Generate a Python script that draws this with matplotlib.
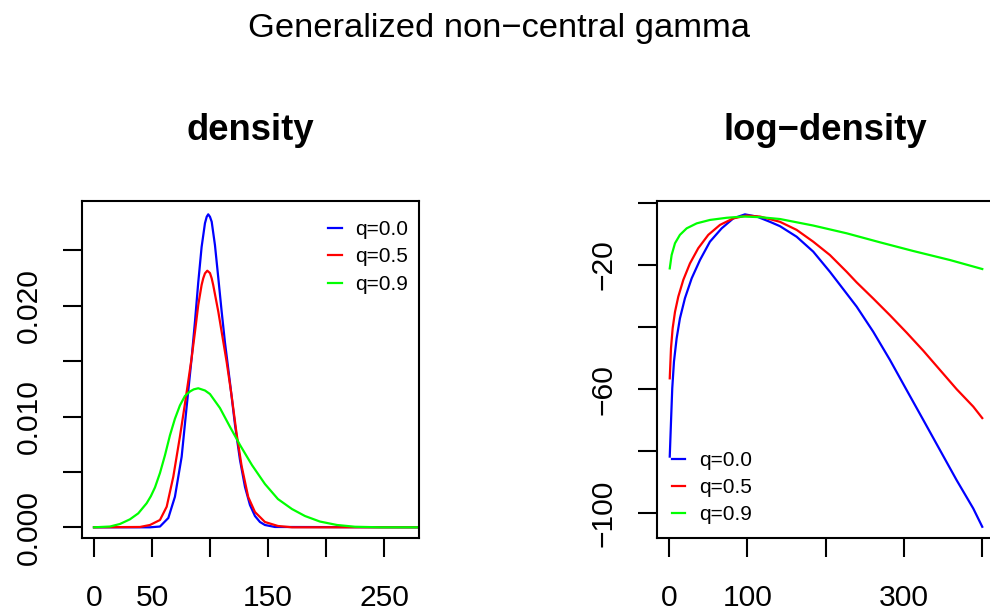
import matplotlib
matplotlib.use("Agg")
import matplotlib.pyplot as plt

plt.rcParams['font.family'] = ['Liberation Sans', 'DejaVu Sans']

MINUS = "\u2212"

# --- values ---
labels = ["q=0.0", "q=0.5", "q=0.9"]
colors = ["#0000FF", "#FF0000", "#00FF00"]

# density panel
dens_x_q00 = [0, 48.3, 56.9, 64.1, 69.8, 75.6, 79.9, 84.2, 87.1, 89.9, 92.8, 95.7,
              97.2, 98.5, 100.0, 101.5, 104.3, 107.2, 110.1, 112.9, 117.2, 121.6,
              125.9, 130.2, 134.5, 138.8, 143.1, 147.4, 156.0, 285]
dens_y_q00 = [0, 0, 0.00007, 0.00084, 0.00276, 0.00637, 0.01088, 0.01528, 0.0186,
              0.0221, 0.02530, 0.02745, 0.02803, 0.02825, 0.02803, 0.02758, 0.02548,
              0.0225, 0.01946, 0.01672, 0.01311, 0.00923, 0.00607, 0.00364, 0.00201,
              0.00102, 0.00048, 0.00021, 0.00003, 0]

dens_x_q05 = [0, 39.7, 48.3, 56.9, 62.7, 68.4, 74.1, 78.4, 81.3, 84.2, 87.1, 89.9,
              92.8, 94.2, 95.7, 97.7, 100.0, 101.5, 102.8, 107.2, 111.5, 114.4, 118.7,
              123.0, 127.3, 133.0, 138.8, 147.4, 158.6, 170.7, 285]
dens_y_q05 = [0, 0.00003, 0.00021, 0.00066, 0.00186, 0.00457, 0.00818, 0.01113,
              0.0132, 0.01528, 0.01765, 0.02006, 0.02187, 0.02247, 0.02292, 0.02316,
              0.02295, 0.02247, 0.02187, 0.01946, 0.01675, 0.01492, 0.01185, 0.00842,
              0.00553, 0.00273, 0.00138, 0.00048, 0.00012, 0, 0]

dens_x_q09 = [0, 13.8, 22.4, 31.0, 38.2, 45.4, 49.0, 52.6, 56.9, 61.2, 65.5, 69.8,
              74.1, 78.4, 82.8, 86.0, 89.9, 95.7, 100.0, 108.6, 117.2, 125.9, 136.2,
              147.4, 158.6, 170.7, 181.9, 194.8, 209.5, 225.0, 246.6, 285]
dens_y_q09 = [0, 0.00007, 0.0003, 0.00072, 0.00126, 0.00217, 0.0028, 0.0036, 0.0049,
              0.0065, 0.0083, 0.0098, 0.0110, 0.01185, 0.01226, 0.01245, 0.01255,
              0.01235, 0.01203, 0.01077, 0.00908, 0.00743, 0.00562, 0.00391, 0.00255,
              0.00165, 0.00102, 0.00052, 0.00021, 0.00005, 0, 0]

# log-density panel
logd_x_q00 = [1, 2.6, 4.2, 6.4, 9.8, 14.0, 20.4, 29.0, 39.6, 52.3, 67.3, 82.1, 97.0,
              112.0, 128.9, 141.7, 163.0, 184.2, 205.5, 218.3, 239.6, 260.8, 282.2,
              303.5, 324.7, 346.0, 367.3, 388.5, 400]
logd_y_q00 = [-81.7, -70.5, -59.7, -51.1, -43.6, -37.2, -30.7, -24.3, -18.4, -12.5,
              -8.2, -5.0, -3.7, -4.4, -6.1, -7.5, -10.9, -15.7, -22.2, -26.4, -33.4,
              -41.5, -50.6, -60.3, -69.9, -79.6, -89.3, -98.4, -104.3]

logd_x_q05 = [1, 2.6, 4.7, 7.7, 11.9, 18.3, 26.8, 37.4, 50.2, 65.1, 82.1, 99.2, 116.2,
              141.7, 163.0, 184.2, 205.5, 226.9, 239.6, 260.8, 282.2, 303.5, 324.7,
              346.0, 367.3, 388.5, 400]
logd_y_q05 = [-56.5, -46.8, -40.4, -35.1, -30.2, -24.8, -19.5, -14.6, -10.3, -7.1,
              -5.0, -4.1, -4.4, -6.1, -8.7, -12.5, -16.8, -22.2, -25.6, -30.8, -36.2,
              -41.8, -47.6, -53.8, -60.0, -65.6, -69.3]

logd_x_q09 = [1, 3.4, 7.7, 14.0, 22.6, 35.4, 52.3, 73.7, 94.9, 116.2, 141.7, 184.2,
              226.9, 269.4, 311.9, 358.7, 400]
logd_y_q09 = [-21.1, -16.8, -13.0, -10.3, -8.2, -6.6, -5.5, -4.8, -4.4, -4.6, -5.2,
              -7.3, -9.8, -12.7, -15.5, -18.4, -21.3]

dens_xticks = [0, 50, 100, 150, 200, 250]
dens_xticklabels = ["0", "50", "", "150", "", "250"]
dens_yticks = [0, 0.005, 0.010, 0.015, 0.020, 0.025]
dens_yticklabels = ["0.000", "", "0.010", "", "0.020", ""]

logd_xticks = [0, 100, 200, 300, 400]
logd_xticklabels = ["0", "100", "", "300", ""]
logd_yticks = [-100, -80, -60, -40, -20, 0]
logd_yticklabels = [MINUS + "100", "", MINUS + "60", "", MINUS + "20", ""]


def style_axes(ax, xticks, xlabels, yticks, ylabels):
    for sp in ax.spines.values():
        sp.set_linewidth(1.5)
    ax.set_xticks(xticks, xlabels)
    ax.set_yticks(yticks, ylabels, rotation=90, va="center")
    ax.tick_params(axis="both", direction="out", length=13.7, width=1.5,
                   labelsize=21.6)
    ax.tick_params(axis="x", pad=19.5)
    ax.tick_params(axis="y", pad=14.5)


fig = plt.figure(figsize=(9.9, 6.13), dpi=100)

# --- left: density ---
ax1 = fig.add_axes([0.0825, 0.1219, 0.3407, 0.5507])
for xs, ys, c, lab in zip([dens_x_q00, dens_x_q05, dens_x_q09],
                          [dens_y_q00, dens_y_q05, dens_y_q09], colors, labels):
    ax1.plot(xs, ys, color=c, lw=1.6, label=lab)
ax1.set_xlim(-10.6, 280.2)
ax1.set_ylim(-0.00099, 0.02948)
style_axes(ax1, dens_xticks, dens_xticklabels, dens_yticks, dens_yticklabels)
ax1.set_title("density", fontsize=26.3, fontweight="bold", pad=43.7)
ax1.legend(loc="upper left", bbox_to_anchor=(0.731, 0.943), frameon=False,
           fontsize=15, handlelength=0.65, handletextpad=0.65, labelspacing=0.41,
           borderpad=0, borderaxespad=0)

# --- right: log-density ---
ax2 = fig.add_axes([0.6633, 0.1219, 0.3417, 0.5507])
for xs, ys, c, lab in zip([logd_x_q00, logd_x_q05, logd_x_q09],
                          [logd_y_q00, logd_y_q05, logd_y_q09], colors, labels):
    ax2.plot(xs, ys, color=c, lw=1.6, label=lab)
ax2.set_xlim(-15.7, 416.2)
ax2.set_ylim(-108.0, 0.7)
style_axes(ax2, logd_xticks, logd_xticklabels, logd_yticks, logd_yticklabels)
ax2.set_title("log" + MINUS + "density", fontsize=26.3, fontweight="bold", pad=43.7)
ax2.legend(loc="upper left", bbox_to_anchor=(0.0443, 0.2574), frameon=False,
           fontsize=15, handlelength=0.65, handletextpad=0.65, labelspacing=0.38,
           borderpad=0, borderaxespad=0)

fig.text(0.504, 0.9396, "Generalized non" + MINUS + "central gamma", fontsize=24.8,
         ha="center", va="baseline")

fig.savefig("out.png", dpi=100)
